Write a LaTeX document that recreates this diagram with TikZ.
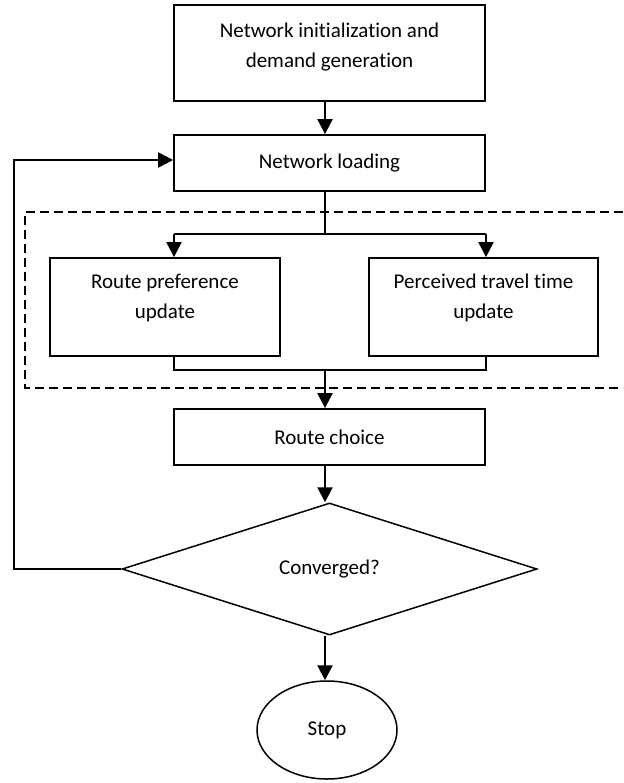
\documentclass[tikz,border=0pt]{standalone}
\usepackage{fontspec}
\setmainfont{Carlito}[Ligatures={NoCommon,NoContextual}]
\usetikzlibrary{arrows.meta,shapes.geometric}
\begin{document}
\begin{tikzpicture}[x=1pt,y=-1pt,
  every node/.style={font=\fontsize{21}{30}\selectfont},
  procbox/.style={draw,line width=1.8pt,rectangle,inner sep=0pt},
  txt/.style={align=center,inner sep=0pt},
  flow/.style={line width=2.2pt,-{Triangle[width=15pt,length=15pt]}},
  link/.style={line width=2pt},
  stem/.style={line width=1.3pt},
  group/.style={line width=1.8pt,dash pattern=on 9pt off 5pt}]
\useasboundingbox (0,0) rectangle (623,783);

% process boxes
\node[procbox,minimum width=311pt,minimum height=96pt] (init) at (329.5,53) {};
\node[txt] (inittext) at (329.5,47) {Network initialization and\\demand generation};
\node[procbox,minimum width=311pt,minimum height=56pt] (load) at (329.5,163) {Network loading};
\node[procbox,minimum width=230pt,minimum height=98pt] (pref) at (165,307) {};
\node[txt] (preftext) at (165,298) {Route preference\\update};
\node[procbox,minimum width=229pt,minimum height=98pt] (perc) at (483.5,307) {};
\node[txt] (perctext) at (483.5,298) {Perceived travel time\\update};
\node[procbox,minimum width=311pt,minimum height=56pt] (choice) at (329.5,437) {Route choice};
\node[draw,diamond,line width=1.5pt,inner sep=0pt,minimum width=415pt,minimum height=132pt] (conv) at (329.5,569) {Converged?};
\node[draw,ellipse,line width=1.5pt,inner sep=0pt,minimum width=140pt,minimum height=98pt] (stop) at (327,730) {Stop};

% dashed group around the two update steps (open to the right)
\draw[group] (623,212) -- (25,212) -- (25,388) -- (623,388);

% branch and join points
\coordinate (split) at (325,234);
\coordinate (join) at (325,370);

% main flow
\draw[flow] (init.south -| split) -- (load.north -| split);
\draw[stem] (load.south -| split) -- (split);
\draw[link] (split) -- (174,234) coordinate (sl);
\draw[flow] (sl) -- (sl |- pref.north);
\draw[link] (split) -- (486,234) coordinate (sr);
\draw[flow] (sr) -- (sr |- perc.north);
\draw[link] (pref.south -| sl) -- (sl |- join) -- (join);
\draw[link] (perc.south -| sr) -- (sr |- join) -- (join);
\draw[flow] (join) -- (choice.north -| join);
\draw[flow] (choice.south -| join) -- (conv.north -| join);
\draw[flow] (conv.south -| join) -- (stop.north -| join);

% feedback loop
\coordinate (back) at (14,569);
\draw[flow] (conv.west) -- (back) -- (back |- 0,160) -- (load.west |- 0,160);
\end{tikzpicture}
\end{document}
